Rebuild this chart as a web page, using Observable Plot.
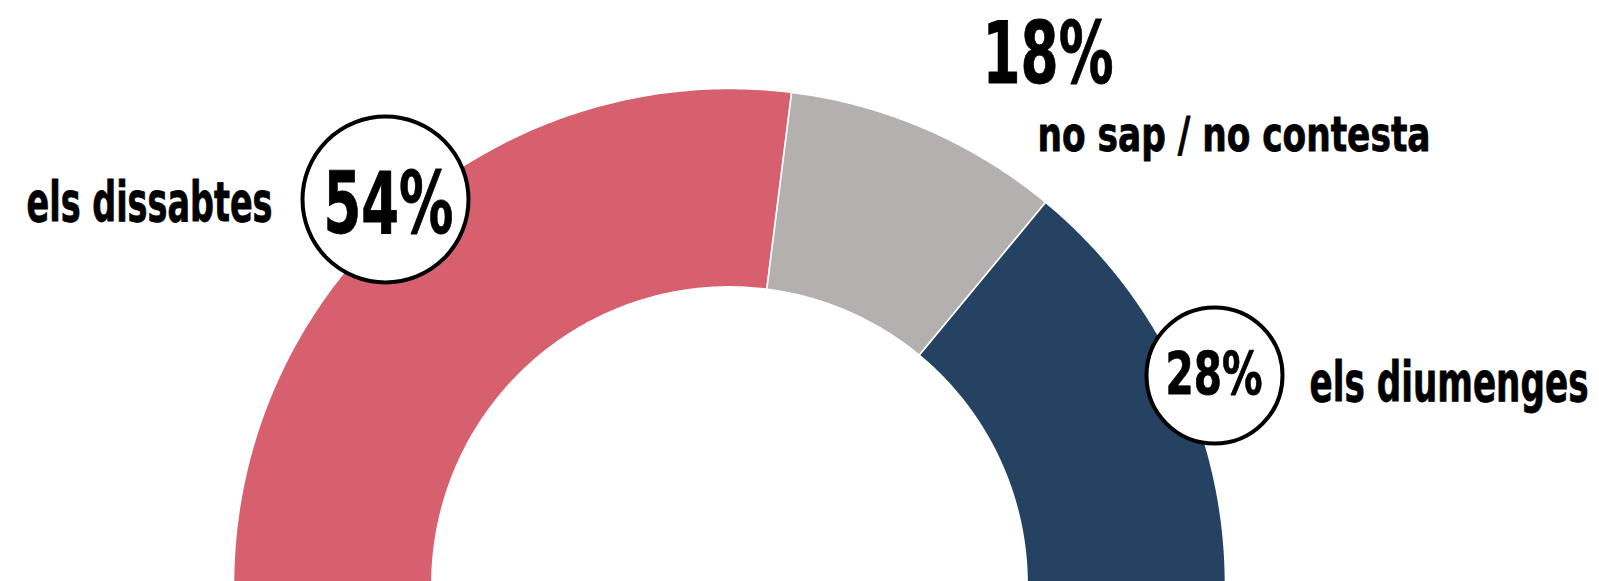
<!DOCTYPE html>
<html>
<head>
<meta charset="utf-8">
<script src="https://cdn.jsdelivr.net/npm/d3@7"></script>
<script src="https://cdn.jsdelivr.net/npm/@observablehq/plot@0.6"></script>
<style>
  html, body { margin: 0; padding: 0; background: #fff; }
  #chart svg { display: block; }
</style>
</head>
<body>
<div id="chart"></div>
<script>
// ---- data ----
const categories = ["els dissabtes", "no sap / no contesta", "els diumenges"];
const values = [54, 18, 28];
const valueLabels = ["54%", "18%", "28%"];
const colors = ["#d6606d", "#b3b0af", "#264262"];

// ---- geometry (unit circle: outer radius 1, inner radius 0.6, half donut) ----
const W = 1599, H = 581;
const CX = 729, CY = 584, R = 496;          // layout in pixels
const INNER = 0.6;
const ux = px => (px - CX) / R;
const vy = py => (CY - py) / R;

const total = d3.sum(values);
const slices = [];
let acc = 0;
categories.forEach((c, i) => {
  const a0 = Math.PI * (1 - acc / total);
  acc += values[i];
  const a1 = Math.PI * (1 - acc / total);
  slices.push({key: c, a0, a1});
});

const arcPoints = [];
const N = 160;
for (const s of slices) {
  const pts = [];
  for (let k = 0; k <= N; k++) {
    const a = s.a0 + (s.a1 - s.a0) * k / N;
    pts.push({key: s.key, x: Math.cos(a), y: Math.sin(a)});
  }
  for (let k = N; k >= 0; k--) {
    const a = s.a0 + (s.a1 - s.a0) * k / N;
    pts.push({key: s.key, x: INNER * Math.cos(a), y: INNER * Math.sin(a)});
  }
  pts.push(pts[0]);
  arcPoints.push(...pts);
}

const FONT = "'DejaVu Sans Condensed', 'DejaVu Sans', sans-serif";

// annotation layout (start x, baseline y, font size, target width in px)
const circles = [
  {x: ux(385), y: vy(199), r: 83},
  {x: ux(1214), y: vy(375), r: 68}
];
const texts = [
  {x: ux(26),   y: vy(220), t: categories[0],  size: 56, w: 246},
  {x: ux(323),  y: vy(232), t: valueLabels[0], size: 85, w: 130},
  {x: ux(982),  y: vy(82),  t: valueLabels[1], size: 85, w: 131},
  {x: ux(1037), y: vy(150), t: categories[1],  size: 48, w: 393},
  {x: ux(1165), y: vy(393), t: valueLabels[2], size: 59, w: 97},
  {x: ux(1309), y: vy(400), t: categories[2],  size: 56, w: 279}
];

const textMarks = texts.map(d => Plot.text([d], {
  x: "x", y: "y", text: "t",
  fontSize: d.size, fontWeight: "bold", fontFamily: FONT,
  textAnchor: "start", lineAnchor: "bottom", fill: "#000",
  stroke: "#000", strokeWidth: 0.8
}));

const chart = Plot.plot({
  width: W, height: H,
  margin: 0,
  x: {domain: [ux(0), ux(W)], range: [0, W], axis: null},
  y: {domain: [vy(H), vy(0)], range: [H, 0], axis: null},
  color: {domain: categories, range: colors},
  r: {type: "identity"},
  marks: [
    Plot.line(arcPoints, {x: "x", y: "y", z: "key", fill: "key", stroke: "#ffffff", strokeWidth: 1.6, curve: "linear"}),
    Plot.dot(circles, {x: "x", y: "y", r: "r", fill: "#fff", stroke: "#000", strokeWidth: 4}),
    ...textMarks
  ]
});

// condense the labels to the reference widths
const textEls = chart.querySelectorAll('g[aria-label="text"] text');
textEls.forEach((el, i) => {
  if (texts[i]) {
    el.setAttribute("textLength", texts[i].w);
    el.setAttribute("lengthAdjust", "spacingAndGlyphs");
  }
});
document.getElementById("chart").appendChild(chart);
</script>
</body>
</html>
